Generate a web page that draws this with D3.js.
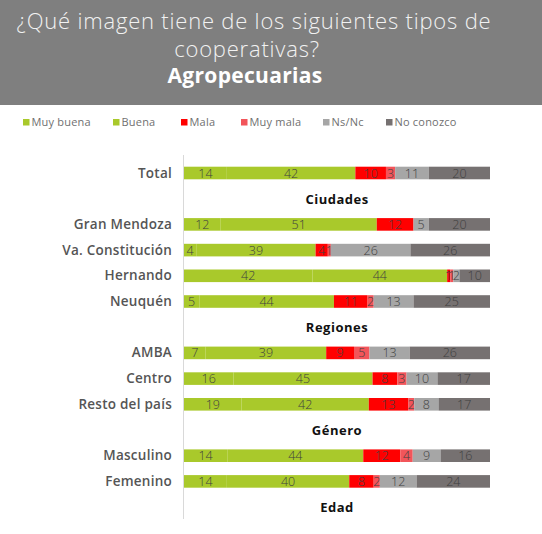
<!DOCTYPE html>
<html><head><meta charset="utf-8">
<script src="https://cdn.jsdelivr.net/npm/d3@7"></script>
<style>
html,body{margin:0;padding:0;background:#fff;}
svg{display:block;}
</style></head>
<body>
<script>
// ---- data ----
const titleLines = ["¿Qué imagen tiene de los siguientes tipos de", "cooperativas?"];
const subtitle = "Agropecuarias";
const seriesNames = ["Muy buena", "Buena", "Mala", "Muy mala", "Ns/Nc", "No conozco"];
const seriesColors = ["#a9c92b", "#a9c92b", "#ff0000", "#f2555a", "#a6a6a6", "#767171"];
// row list: header rows carry no values
const rowLabels = ["Total", "Ciudades", "Gran Mendoza", "Va. Constitución", "Hernando", "Neuquén",
  "Regiones", "AMBA", "Centro", "Resto del país", "Género", "Masculino", "Femenino", "Edad"];
const headerRows = ["Ciudades", "Regiones", "Género", "Edad"];
const muyBuena  = [14, null, 12, 4, 42, 5, null, 7, 16, 19, null, 14, 14, null];
const buena     = [42, null, 51, 39, 44, 44, null, 39, 45, 42, null, 44, 40, null];
const mala      = [10, null, 12, 4, 1, 11, null, 9, 8, 13, null, 12, 8, null];
const muyMala   = [3, null, 0, 1, 1, 2, null, 5, 3, 2, null, 4, 2, null];
const nsnc      = [11, null, 5, 26, 2, 13, null, 13, 10, 8, null, 9, 12, null];
const noConozco = [20, null, 20, 26, 10, 25, null, 26, 17, 17, null, 16, 24, null];

const W = 542, H = 534;
const svg = d3.select("body").append("svg").attr("width", W).attr("height", H);
const FONT = "'Open Sans', 'DejaVu Sans', sans-serif";

// header band
svg.append("rect").attr("x", 0).attr("y", 0).attr("width", W).attr("height", 105).attr("fill", "#7f7f7f");
const tb = [29, 57], tx = [254, 247];
titleLines.forEach((t, i) => {
  svg.append("text").attr("x", tx[i]).attr("y", tb[i]).attr("text-anchor", "middle")
    .attr("font-family", FONT).attr("font-size", 22).attr("font-weight", 300)
    .attr("letter-spacing", 0.8)
    .attr("fill", "#f2f2f2").text(t);
});
svg.append("text").attr("x", 245).attr("y", 83).attr("text-anchor", "middle")
  .attr("font-family", FONT).attr("font-size", 21).attr("font-weight", 700)
  .attr("letter-spacing", 0.3)
  .attr("fill", "#ffffff").text(subtitle);

// legend
const legendX = [23, 113, 181, 241, 323, 386];
const lg = svg.append("g");
seriesNames.forEach((n, i) => {
  lg.append("rect").attr("x", legendX[i]).attr("y", 119).attr("width", 6.5).attr("height", 6.5).attr("fill", seriesColors[i]);
  lg.append("text").attr("x", legendX[i] + 8.5).attr("y", 126).attr("font-family", FONT)
    .attr("font-size", 11).attr("letter-spacing", 0.2).attr("fill", "#707070").text(n);
});

// scales (100% stacked)
const x = d3.scaleLinear().domain([0, 1]).range([184, 490]);
const y = d3.scaleBand().domain(rowLabels).range([160.15, 160.15 + 14 * 25.7]).paddingInner(0.51).paddingOuter(0.255);

// axis line
svg.append("line").attr("x1", 183.5).attr("x2", 183.5).attr("y1", 155).attr("y2", 519)
  .attr("stroke", "#d9d9d9").attr("stroke-width", 1);

const cols = [muyBuena, buena, mala, muyMala, nsnc, noConozco];
const table = rowLabels.map((r, i) => {
  const o = { row: r };
  seriesNames.forEach((s, k) => o[s] = cols[k][i] == null ? 0 : cols[k][i]);
  return o;
}).filter(d => !headerRows.includes(d.row));

const stack = d3.stack().keys(seriesNames).offset(d3.stackOffsetExpand)(table);
stack.forEach((layer, k) => {
  svg.append("g").selectAll("rect").data(layer).join("rect")
    .attr("x", d => x(d[0])).attr("width", d => x(d[1]) - x(d[0]))
    .attr("y", d => y(d.data.row)).attr("height", y.bandwidth())
    .attr("fill", seriesColors[k]);
});
stack.forEach((layer, k) => {
  const key = layer.key;
  svg.append("g").selectAll("text").data(layer.filter(d => d.data[key] > 0)).join("text")
    .attr("x", d => (x(d[0]) + x(d[1])) / 2)
    .attr("y", d => y(d.data.row) + y.bandwidth() / 2 + 4.5)
    .attr("text-anchor", "middle").attr("font-family", FONT).attr("font-size", 12.5)
    .attr("font-weight", 300).attr("fill", "#404040")
    .text(d => d.data[key]);
});

// row labels
svg.append("g").selectAll("text").data(rowLabels.filter(r => !headerRows.includes(r))).join("text")
  .attr("x", 172).attr("y", d => y(d) + y.bandwidth() / 2 + 4.5).attr("text-anchor", "end")
  .attr("font-family", FONT).attr("font-size", 13.5).attr("font-weight", 600).attr("fill", "#555555")
  .attr("letter-spacing", 0.25)
  .text(d => d);

// section headers
svg.append("g").selectAll("text").data(headerRows).join("text")
  .attr("x", 337).attr("y", d => y(d) + y.bandwidth() / 2 + 5).attr("text-anchor", "middle")
  .attr("font-family", FONT).attr("font-size", 13).attr("font-weight", 700).attr("fill", "#111111")
  .attr("letter-spacing", 0.5)
  .text(d => d);
</script>
</body></html>
